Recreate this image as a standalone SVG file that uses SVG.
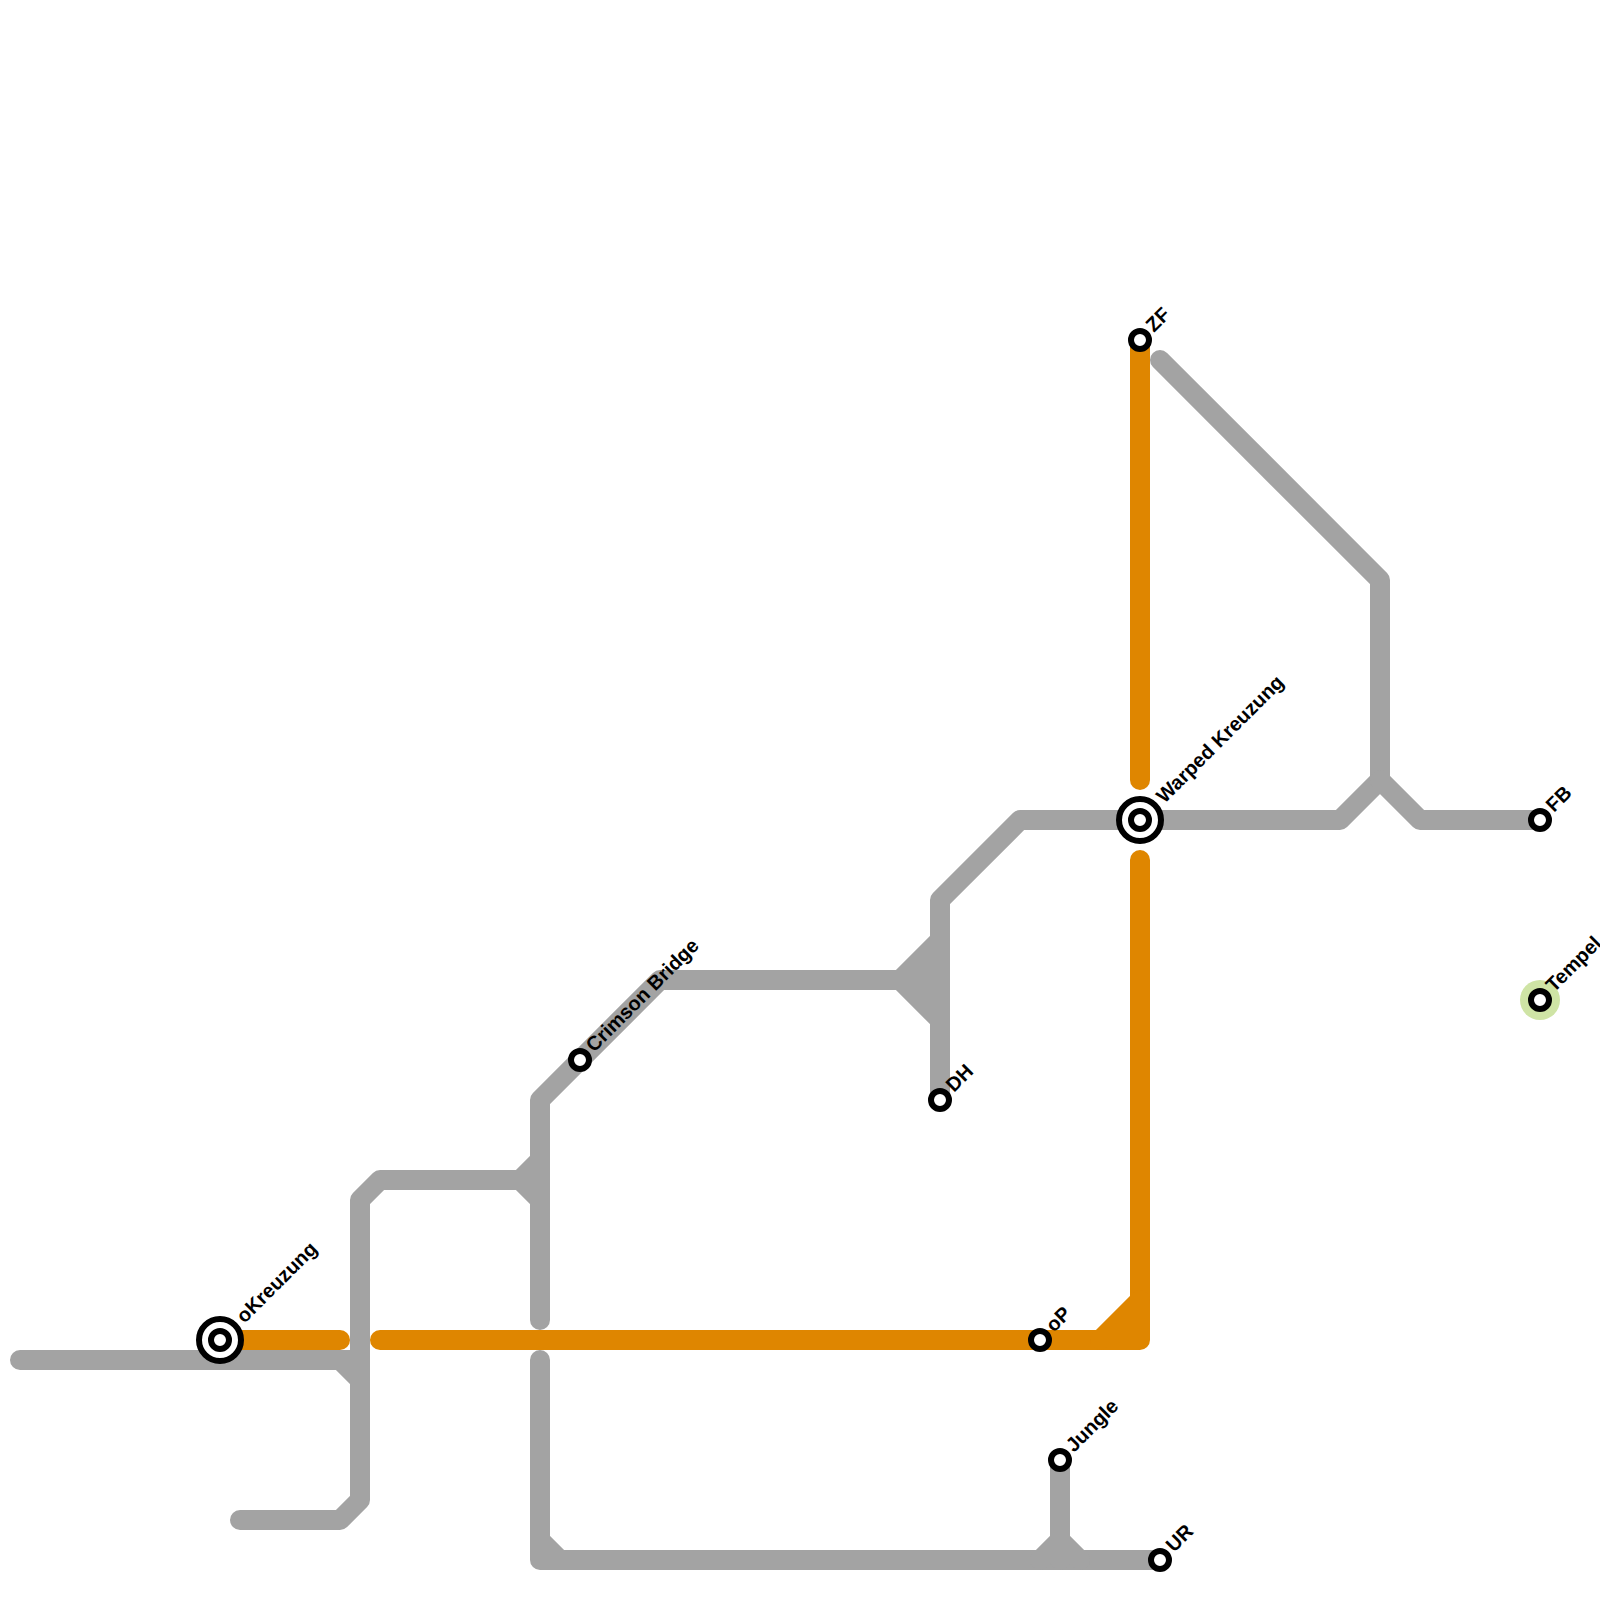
<svg xmlns="http://www.w3.org/2000/svg" width="1600" height="1600" viewBox="0 0 1600 1600">
<style>
.g{fill:none;stroke:#a3a3a3;stroke-width:20;stroke-linecap:round;stroke-linejoin:round}
.o{fill:none;stroke:#df8600;stroke-width:20;stroke-linecap:round;stroke-linejoin:round}
.s{fill:#fff;stroke:#000;stroke-width:6}
text{font-family:"Liberation Sans",Arial,sans-serif;font-size:20px;font-weight:700;fill:#000}
</style>
<rect width="1600" height="1600" fill="#fff"/>
<g id="connectors">
<path class="g" d="M20 1360H340L360 1380M340 1360H360"/>
<path class="g" d="M240 1520H340L360 1500V1200L380 1180H520L540 1160M520 1180L540 1200"/>
<path class="g" d="M540 1320V1100L660 980H900L940 940M900 980L940 1020"/>
<polygon points="900,980 940,940 940,1020" fill="#a3a3a3"/>
<path class="g" d="M540 1360V1560H1160M540 1540L560 1560"/>
<path class="g" d="M1060 1460V1560M1040 1560L1060 1540L1080 1560"/>
<path class="g" d="M940 1100V900L1020 820H1340L1380 780V580L1160 360"/>
<path class="g" d="M1380 780L1420 820H1540"/>
<path class="o" d="M220 1340H340"/>
<path class="o" d="M380 1340H1140V860"/>
<path class="o" d="M1100 1340L1140 1300"/>
<polygon points="1100,1340 1140,1300 1140,1340" fill="#df8600"/>
<path class="o" d="M1140 340V780"/>
</g>
<g id="n-okreuzung"><circle class="s" cx="220" cy="1340" r="21"/><circle class="s" cx="220" cy="1340" r="9"/><text transform="translate(244.5 1324) rotate(-45)">oKreuzung</text></g>
<g id="n-warped"><circle class="s" cx="1140" cy="820" r="21"/><circle class="s" cx="1140" cy="820" r="9"/><text transform="translate(1164.5 804) rotate(-45)">Warped Kreuzung</text></g>
<g id="n-crimson"><circle class="s" cx="580" cy="1060" r="9"/><text transform="translate(594 1053) rotate(-45)">Crimson Bridge</text></g>
<g id="n-dh"><circle class="s" cx="940" cy="1100" r="9"/><text transform="translate(954 1093) rotate(-45)">DH</text></g>
<g id="n-op"><circle class="s" cx="1040" cy="1340" r="9"/><text transform="translate(1054 1333) rotate(-45)">oP</text></g>
<g id="n-jungle"><circle class="s" cx="1060" cy="1460" r="9"/><text transform="translate(1074 1453) rotate(-45)">Jungle</text></g>
<g id="n-ur"><circle class="s" cx="1160" cy="1560" r="9"/><text transform="translate(1174 1553) rotate(-45)">UR</text></g>
<g id="n-zf"><circle class="s" cx="1140" cy="340" r="9"/><text transform="translate(1154 333) rotate(-45)">ZF</text></g>
<g id="n-fb"><circle class="s" cx="1540" cy="820" r="9"/><text transform="translate(1554 813) rotate(-45)">FB</text></g>
<g id="n-tempel"><circle cx="1540" cy="1000" r="20" fill="#cfe4a5"/><circle class="s" cx="1540" cy="1000" r="9"/><text transform="translate(1554 993) rotate(-45)">Tempel</text></g>
</svg>
